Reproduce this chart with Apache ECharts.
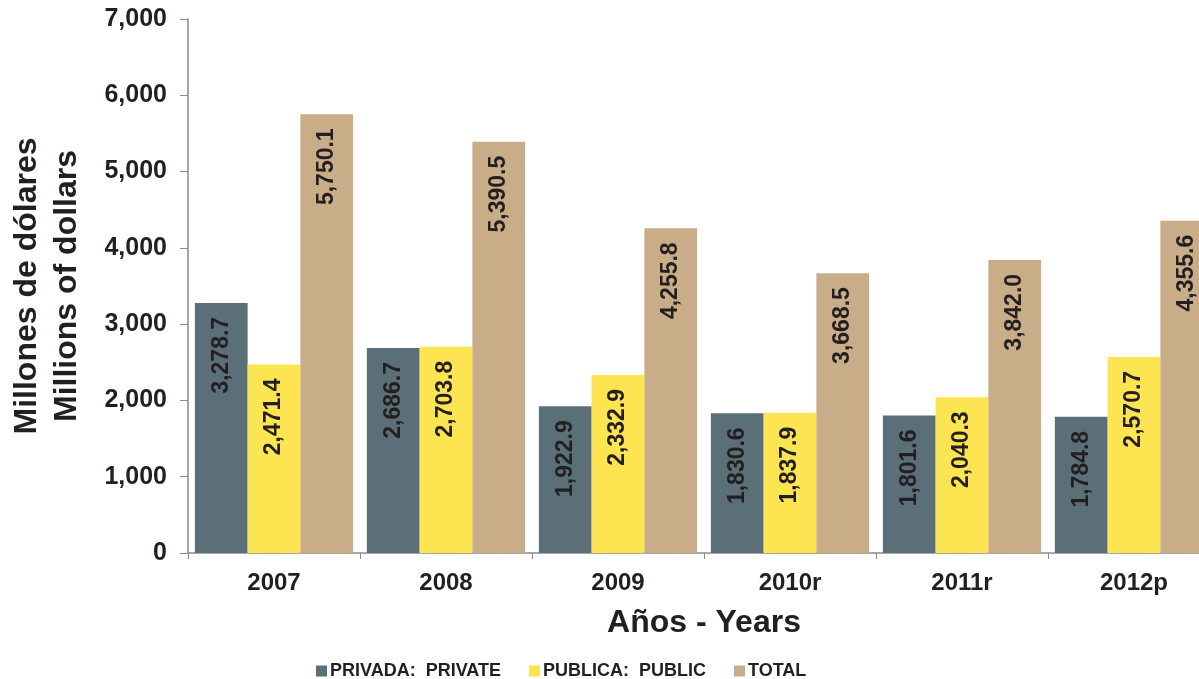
<!DOCTYPE html>
<html>
<head>
<meta charset="utf-8">
<script src="https://cdn.jsdelivr.net/npm/echarts@6/dist/echarts.min.js"></script>
<style>
	html, body { margin: 0; padding: 0; background: #fff; }
	#chart { width: 1199px; height: 679px; }
</style>
</head>
<body>
<div id="chart"></div>
<script>
	// categories and values
	var years = ['2007', '2008', '2009', '2010r', '2011r', '2012p'];
	var privada = [3278.7, 2686.7, 1922.9, 1830.6, 1801.6, 1784.8];
	var publica = [2471.4, 2703.8, 2332.9, 1837.9, 2040.3, 2570.7];
	var total = [5750.1, 5390.5, 4255.8, 3668.5, 3842.0, 4355.6];
	var seriesNames = ['PRIVADA:  PRIVATE', 'PUBLICA:  PUBLIC', 'TOTAL'];
	var colors = ['#5b6f78', '#fde552', '#c8ad88'];

	var font = 'Liberation Sans, Arial, sans-serif';
	var ink = '#231f20';

	function fmt(v) {
		return v.toLocaleString('en-US', { minimumFractionDigits: 1, maximumFractionDigits: 1 });
	}

	function makeSeries(name, data) {
		return {
			name: name,
			type: 'bar',
			data: data,
			barGap: 0,
			barCategoryGap: '8%',
			label: {
				show: true,
				position: 'insideTop',
				distance: 14,
				rotate: 90,
				align: 'right',
				verticalAlign: 'middle',
				color: ink,
				fontFamily: font,
				fontWeight: 'bold',
				fontSize: 23,
				formatter: function (p) { return fmt(p.value); }
			}
		};
	}

	var chart = echarts.init(document.getElementById('chart'));
	chart.setOption({
		animation: false,
		color: colors,
		textStyle: { fontFamily: font },
		grid: { left: 188, top: 19, width: 1032, bottom: 126, containLabel: false, outerBoundsMode: 'none' },
		legend: {
			left: 311,
			top: 657,
			itemWidth: 11,
			itemHeight: 11,
			itemGap: 28,
			icon: 'rect',
			textStyle: { color: ink, fontFamily: font, fontWeight: 'bold', fontSize: 18, padding: [0, 0, 0, -2] },
			data: seriesNames
		},
		xAxis: {
			type: 'category',
			data: years,
			name: 'Años - Years',
			nameLocation: 'middle',
			nameGap: 54,
			nameTextStyle: { color: ink, fontFamily: font, fontWeight: 'bold', fontSize: 32 },
			axisLine: { lineStyle: { color: '#8a8a8a', width: 1.5 } },
			axisTick: { show: true, length: 6, lineStyle: { color: '#8a8a8a' } },
			axisLabel: { color: ink, fontFamily: font, fontWeight: 'bold', fontSize: 24, margin: 18 }
		},
		yAxis: {
			type: 'value',
			min: 0,
			max: 7000,
			interval: 1000,
			name: 'Millones de dólares\nMillions of dollars',
			nameLocation: 'middle',
			nameGap: 101,
			nameTextStyle: { color: ink, fontFamily: font, fontWeight: 'bold', fontSize: 32, lineHeight: 40 },
			axisLine: { show: true, lineStyle: { color: '#8a8a8a', width: 1.5 } },
			axisTick: { show: true, length: 8, lineStyle: { color: '#8a8a8a' } },
			splitLine: { show: false },
			axisLabel: {
				color: ink,
				fontFamily: font,
				fontWeight: 'bold',
				fontSize: 25,
				margin: 21,
				formatter: function (v) { return v.toLocaleString('en-US'); }
			}
		},
		series: [
			makeSeries(seriesNames[0], privada),
			makeSeries(seriesNames[1], publica),
			makeSeries(seriesNames[2], total)
		]
	});
</script>
</body>
</html>
